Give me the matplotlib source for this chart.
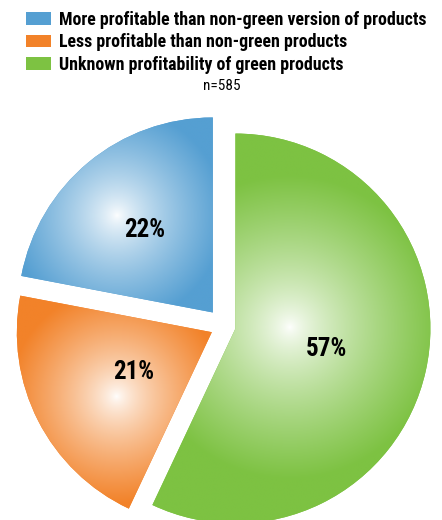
import numpy as np
import matplotlib
matplotlib.use("Agg")
from matplotlib import pyplot as plt

plt.rcParams['font.family'] = ['Roboto Condensed', 'Lato', 'DejaVu Sans']

# Survey answers (share of respondents, %)
labels = ["More profitable than non-green version of products",
          "Less profitable than non-green products",
          "Unknown profitability of green products"]
values = [22, 21, 57]
sample_note = "n=585"

colors = ["#559FD2", "#F28229", "#7DC242"]
explode = [0.09, 0.07, 0.06]
# highlight of the radial shading: (fraction of radius, angle offset from bisector)
glow_pos = [(0.70, 5.0), (0.59, 7.0), (0.28, 14.0)]
glow_size = [0.55, 0.55, 0.78]
label_dist = [0.55, 0.45, 0.48]

W, H, R = 442, 520, 195.0
cx, cy = 224.0, 326.0

fig = plt.figure(figsize=(W / 100, H / 100), dpi=100)
ax = fig.add_axes([0, 0, 1, 1])

wedges, _ = ax.pie(values, colors=colors, startangle=90, counterclock=True,
                   explode=explode, radius=1.0,
                   wedgeprops=dict(linewidth=0))

xlim = (-cx / R, (W - cx) / R)
ylim = (-(H - cy) / R, cy / R)

# radial gradient fill, clipped to each wedge
xs = np.linspace(xlim[0], xlim[1], 600)
ys = np.linspace(ylim[1], ylim[0], 700)
gx, gy = np.meshgrid(xs, ys)
for w, col, (frac, off), gs, ld, v in zip(wedges, colors, glow_pos,
                                         glow_size, label_dist, values):
    mid = np.deg2rad((w.theta1 + w.theta2) / 2)
    ox, oy = w.center
    fx = ox + frac * w.r * np.cos(mid + np.deg2rad(off))
    fy = oy + frac * w.r * np.sin(mid + np.deg2rad(off))
    d = np.hypot(gx - fx, gy - fy) / gs
    t = np.clip(d, 0, 1) ** 0.75
    base = np.array(matplotlib.colors.to_rgb(col))
    img = (1 - t[..., None]) * 1.0 + t[..., None] * base
    im = ax.imshow(img, extent=(xlim[0], xlim[1], ylim[0], ylim[1]),
                   interpolation='bilinear', zorder=2)
    im.set_clip_path(w)
    ax.text(ox + ld * w.r * np.cos(mid), oy + ld * w.r * np.sin(mid),
            f"{v}%", ha='center', va='center', fontsize=18,
            fontweight='bold', color='black', zorder=3)

ax.set_xlim(*xlim)
ax.set_ylim(*ylim)
ax.set_axis_off()

fig.legend(wedges, labels, loc='upper left', bbox_to_anchor=(0.035, 1.0),
           frameon=False, handlelength=1.4,
           handleheight=0.73, handletextpad=0.45, labelspacing=0.25,
           borderaxespad=0.2, prop=dict(weight='bold', size=12.9))

fig.text(0.502, 0.835, sample_note, ha='center', va='center', fontsize=11)

fig.savefig("out.png", dpi=100)
